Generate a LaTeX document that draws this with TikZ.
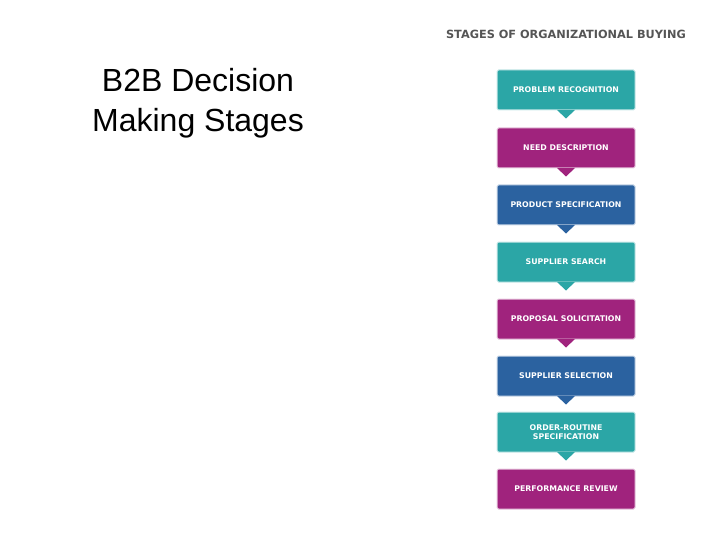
\documentclass[tikz,border=0pt]{standalone}
\usepackage{fontspec}
\setmainfont{Liberation Sans}
\newfontfamily\wide{DejaVu Sans}
\definecolor{cteal}{HTML}{2BA6A6}
\definecolor{cmag}{HTML}{A0237D}
\definecolor{cblue}{HTML}{2B62A0}
\definecolor{cgray}{HTML}{555555}
\begin{document}
\begin{tikzpicture}[x=1pt,y=-1pt,
  stage/.style={fill=#1,draw=#1!25,line width=1pt,rounded corners=1.5pt,minimum width=138pt,minimum height=40pt,
    text=white,font=\wide\bfseries\fontsize{7.8}{9.5}\selectfont,align=center,inner sep=1pt}]
\useasboundingbox (0,0) rectangle (720,540);
\node[font=\fontsize{32}{40}\selectfont,align=center] (title) at (198,103) {B2B Decision\\Making Stages};
\node[font=\wide\bfseries\fontsize{11.3}{13}\selectfont,text=cgray] (head) at (566,34) {STAGES OF ORGANIZATIONAL BUYING};
\node[stage=cteal] (b1) at (566,90) {PROBLEM RECOGNITION};
\node[stage=cmag] (b2) at (566,148) {NEED DESCRIPTION};
\node[stage=cblue] (b3) at (566,205) {PRODUCT SPECIFICATION};
\node[stage=cteal] (b4) at (566,262) {SUPPLIER SEARCH};
\node[stage=cmag] (b5) at (566,319) {PROPOSAL SOLICITATION};
\node[stage=cblue] (b6) at (566,376) {SUPPLIER SELECTION};
\node[stage=cteal] (b7) at (566,432) {ORDER-ROUTINE\\SPECIFICATION};
\node[stage=cmag] (b8) at (566,489) {PERFORMANCE REVIEW};
\foreach \n/\c in {b1/cteal,b2/cmag,b3/cblue,b4/cteal,b5/cmag,b6/cblue,b7/cteal}{
  \fill[\c] ([xshift=-9pt,yshift=0.5pt]\n.south) -- ([yshift=-8pt]\n.south) -- ([xshift=9pt,yshift=0.5pt]\n.south) -- cycle;
}
\end{tikzpicture}
\end{document}
